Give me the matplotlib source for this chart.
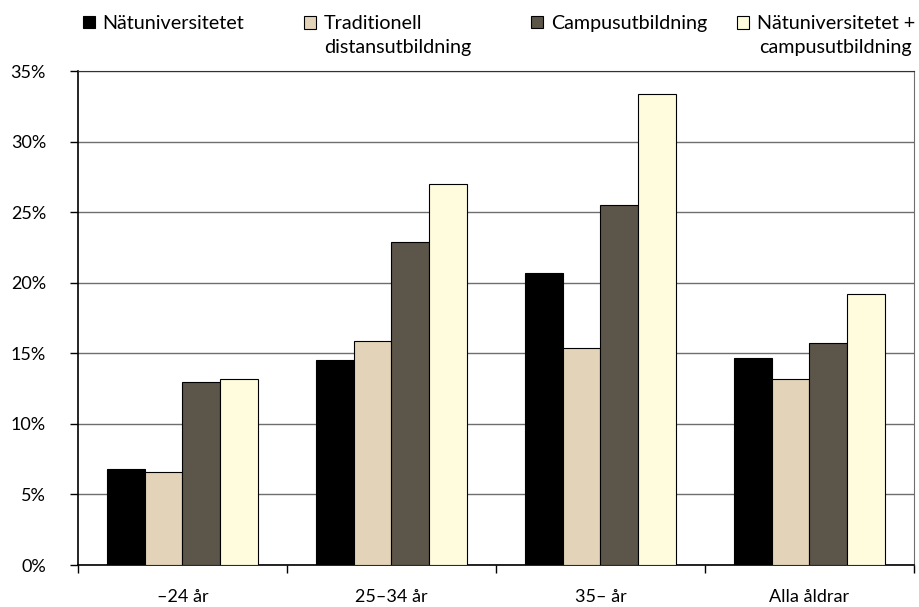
import numpy as np
import matplotlib
matplotlib.use("Agg")
from matplotlib import pyplot as plt
from matplotlib.patches import Rectangle
from matplotlib.legend_handler import HandlerPatch
from matplotlib.container import BarContainer
from matplotlib.ticker import FixedLocator, NullFormatter, FuncFormatter

# data (percent)
groups = ["\u201324 år", "25\u201334 år", "35\u2013 år", "Alla åldrar"]
series_names = ["Nätuniversitetet", "Traditionell\ndistansutbildning",
                "Campusutbildning", "Nätuniversitetet +\ncampusutbildning"]
natuni = [6.8, 14.5, 20.7, 14.7]
trad = [6.6, 15.9, 15.4, 13.2]
campus = [13.0, 22.9, 25.5, 15.7]
natuni_campus = [13.2, 27.0, 33.4, 19.2]
colors = ["#000000", "#E3D4B9", "#5C5549", "#FFFBDD"]

font = {'family': 'Lato', 'size': 13}
matplotlib.rc('font', **font)


class FirstLineHandler(HandlerPatch):
    # put the legend square next to the first line of a multi-line label
    def __init__(self, nlines, k):
        HandlerPatch.__init__(self)
        self.nlines = nlines
        self.k = k

    def create_artists(self, legend, orig_handle, xdescent, ydescent,
                       width, height, fontsize, trans):
        shift = (self.nlines - 1) * self.k * fontsize
        p = Rectangle((-xdescent, -ydescent + shift), width, height,
                      facecolor=orig_handle.patches[0].get_facecolor(),
                      edgecolor="black", linewidth=0.8, transform=trans)
        return [p]


fig = plt.figure(figsize=(9.2, 6.07), dpi=100)
ax = fig.add_axes([78/920, 1-565/607, (914-78)/920, (565-71)/607])

x = np.arange(len(groups))
w = 0.18
all_series = [natuni, trad, campus, natuni_campus]
bars = []
for i, vals in enumerate(all_series):
    b = ax.bar(x + (i - 1.5) * w, vals, w, color=colors[i], edgecolor="black",
               linewidth=0.8, label=series_names[i], zorder=3)
    bars.append(b)

ax.set_xlim(-0.5, 3.5)
ax.set_ylim(0, 35)
ax.set_yticks(np.arange(0, 36, 5))
ax.yaxis.set_major_formatter(FuncFormatter(lambda v, p: "%d%%" % v))
ax.yaxis.grid(True, color="#6e6e6e", linewidth=1, zorder=0)
ax.tick_params(axis="y", length=6, width=1, pad=17, direction="out")

ax.set_xticks(x)
ax.set_xticklabels(groups)
ax.xaxis.set_minor_locator(FixedLocator(np.arange(-0.5, 3.6, 1)))
ax.xaxis.set_minor_formatter(NullFormatter())
ax.tick_params(axis="x", which="major", length=0, pad=17)
ax.tick_params(axis="x", which="minor", length=6, width=1, direction="out")

ax.spines['top'].set_color("#333333")
ax.spines['right'].set_color("#6e6e6e")
for s in ['left', 'bottom']:
    ax.spines[s].set_linewidth(1.2)

# one legend per entry so each sits where it does in the original
leg_x = [83, 304, 531, 737]
aligns = ['left', 'left', 'left', 'center']
for i in range(4):
    nl = series_names[i].count("\n") + 1
    leg = fig.legend(handles=[bars[i]], labels=[series_names[i]],
                     loc="upper left", bbox_to_anchor=(leg_x[i]/920, 1-15/607),
                     frameon=False, handlelength=0.6, handleheight=0.6,
                     handletextpad=0.4, borderpad=0, borderaxespad=0,
                     fontsize=14.2,
                     handler_map={BarContainer: FirstLineHandler(nl, 0.66)})
    leg.get_texts()[0].set_multialignment(aligns[i])
    leg.get_texts()[0].set_linespacing(1.5)

plt.savefig("out.png", dpi=100)
